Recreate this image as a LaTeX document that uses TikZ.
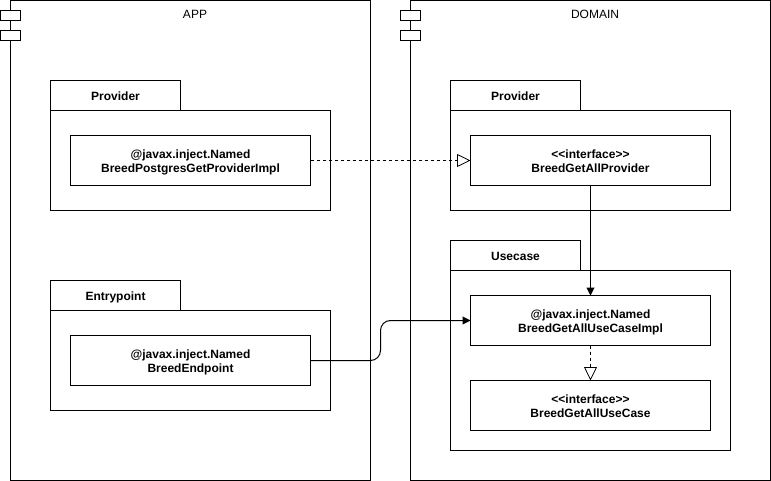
\documentclass[tikz,border=0pt]{standalone}
\usepackage{fontspec}
\setmainfont{Liberation Sans}
\usepackage{tikz}
\usetikzlibrary{arrows.meta}

\tikzset{
  box/.style={draw, black, line width=1pt, rectangle, inner sep=0pt, outer sep=0pt},
  module/.style={box, minimum width=360pt, minimum height=480pt},
  stub/.style={box, minimum width=20pt, minimum height=10pt, fill=white},
  tab/.style={box, minimum width=130pt, minimum height=30pt, text height=10.6pt, text depth=0pt, font=\fontsize{12}{14}\selectfont\bfseries},
  body/.style={box, minimum width=280pt},
  impl/.style={box, minimum width=240pt, minimum height=50pt, align=center, text height=26pt, text depth=2.5pt, font=\fontsize{12}{14}\selectfont\bfseries},
  title/.style={inner sep=0pt, font=\fontsize{12}{14}\selectfont},
  wire/.style={line width=1pt, black},
  realize/.style={wire, dash pattern=on 3pt off 3pt, -{Triangle[open, length=13.5pt, width=13pt, line width=0.8pt, sep=0pt]}},
  call/.style={wire, -{Triangle[length=8pt, width=8pt]}},
}

\begin{document}
\begin{tikzpicture}[x=1pt, y=-1pt]
\useasboundingbox (0,0) rectangle (771,481);

%app
\node [module] (app) at (190.5,240.5) {};
\node [stub] (appTop) at (10.5,15.5) {};
\node [stub] (appBottom) at (10.5,35.5) {};
\node [title] (appTitle) at (195,14) {APP};

%domain
\node [module] (domain) at (590.5,240.5) {};
\node [stub] (domainTop) at (410.5,15.5) {};
\node [stub] (domainBottom) at (410.5,35.5) {};
\node [title] (domainTitle) at (595,14) {DOMAIN};

%packages
\node [tab] (appProviderTab) at (115.5,95.5) {Provider};
\node [body, minimum height=100pt] (appProvider) at (190.5,160.5) {};
\node [tab] (entrypointTab) at (115.5,295.5) {Entrypoint};
\node [body, minimum height=100pt] (entrypoint) at (190.5,360.5) {};
\node [tab] (domainProviderTab) at (515.5,95.5) {Provider};
\node [body, minimum height=100pt] (domainProvider) at (590.5,160.5) {};
\node [tab] (usecaseTab) at (515.5,255.5) {Usecase};
\node [body, minimum height=180pt] (usecase) at (590.5,360.5) {};

%classes
\node [impl] (postgresImpl) at (190.5,160.5) {@javax.inject.Named\\BreedPostgresGetProviderImpl};
\node [impl] (endpoint) at (190.5,360.5) {@javax.inject.Named\\BreedEndpoint};
\node [impl] (providerIface) at (590.5,160.5) {<{}<interface>{}>\\BreedGetAllProvider};
\node [impl] (usecaseImpl) at (590.5,320.5) {@javax.inject.Named\\BreedGetAllUseCaseImpl};
\node [impl] (usecaseIface) at (590.5,405.5) {<{}<interface>{}>\\BreedGetAllUseCase};

%connectors
\draw [realize] (postgresImpl.east) -- (providerIface.west);
\draw [call] (providerIface.south) -- (usecaseImpl.north);
\draw [realize] (usecaseImpl.south) -- (usecaseIface.north);
\draw [call, rounded corners=10pt] (endpoint.east) -- ++(70,0) |- (usecaseImpl.west);

\end{tikzpicture}
\end{document}
